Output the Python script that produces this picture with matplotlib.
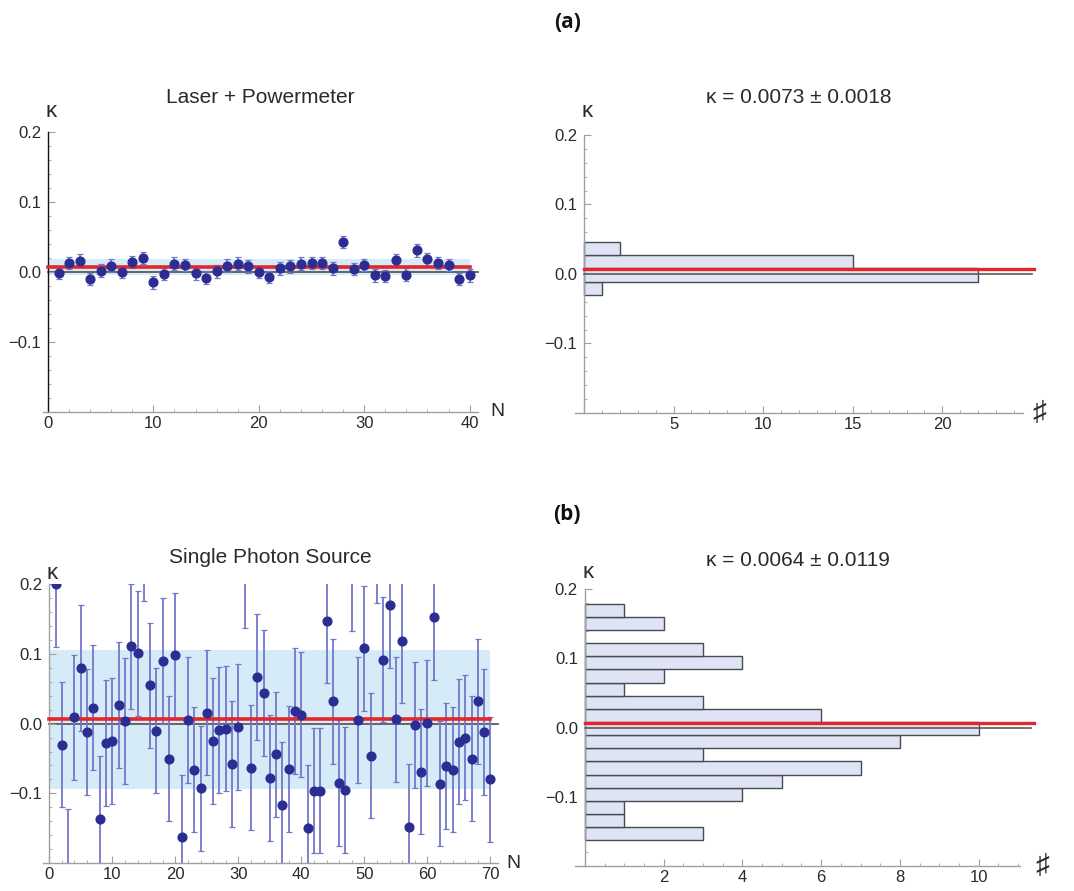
import numpy as np
import matplotlib
matplotlib.use('Agg')
from matplotlib import pyplot as plt
from matplotlib.ticker import MultipleLocator, FixedLocator, FixedFormatter

plt.rcParams['font.family'] = ['Liberation Sans', 'DejaVu Sans']

# (a) laser + powermeter, 40 runs
laser_n = list(range(1, 41))
laser_kappa = [-0.001, 0.013, 0.016, -0.010, 0.002, 0.009, 0.000, 0.014, 0.020, -0.015,
               -0.003, 0.012, 0.010, -0.002, -0.008, 0.001, 0.009, 0.012, 0.008, 0.000,
               -0.007, 0.005, 0.008, 0.012, 0.013, 0.013, 0.005, 0.043, 0.004, 0.010,
               -0.005, -0.006, 0.017, -0.004, 0.031, 0.018, 0.013, 0.010, -0.010, -0.005]
laser_err = 0.009
laser_mean = 0.0073
laser_sem = 0.0018
laser_std = 0.0114
laser_edges = [-0.030, -0.011, 0.008, 0.027, 0.046]
laser_counts = [1, 22, 15, 2]

# (b) single photon source, 70 runs
sps_n = list(range(1, 71))
sps_kappa = [0.200, -0.030, -0.212, 0.009, 0.080, -0.012, 0.023, -0.137, -0.028, -0.025,
             0.027, 0.004, 0.111, 0.101, 0.266, 0.055, -0.010, 0.090, -0.050, 0.098,
             -0.163, 0.005, -0.066, -0.093, 0.016, -0.025, -0.009, -0.007, -0.058, -0.005,
             0.228, -0.063, 0.067, 0.044, -0.078, -0.044, -0.117, -0.065, 0.018, 0.013,
             -0.150, -0.096, -0.096, 0.148, 0.032, -0.085, -0.095, 0.223, 0.005, 0.108,
             -0.046, 0.263, 0.092, 0.170, 0.006, 0.119, -0.148, -0.002, -0.069, 0.001,
             0.153, -0.086, -0.061, -0.066, -0.026, -0.020, -0.050, 0.032, -0.012, -0.080]
sps_err = 0.09
sps_mean = 0.0064
sps_sem = 0.0119
sps_std = 0.0996
sps_edges = [-0.163, -0.144, -0.125, -0.106, -0.087, -0.068, -0.049, -0.030, -0.011, 0.008,
             0.027, 0.046, 0.065, 0.084, 0.103, 0.122, 0.141, 0.160, 0.179]
sps_counts = [3, 1, 1, 4, 5, 7, 3, 8, 10, 6, 3, 1, 2, 4, 3, 0, 2, 1]

ytick_vals = [-0.1, 0.0, 0.1, 0.2]
ytick_labels = ['\u22120.1', '0.0', '0.1', '0.2']

DOT = '#2b2d92'
ERR = '#7377c9'
BAND = '#d6ebf8'
RED = '#e4262b'
ZERO = '#5a5a5a'
AX = '#a0a0a0'
TXT = '#2a2a2a'


def style_axes(ax, xlim, major, minor, ylabel_off, xname, xname_off, xname_size=14,
               left_color=AX, xzero_label=True):
    ax.set_xlim(*xlim)
    ax.set_ylim(-0.2, 0.2)
    for s in ['top', 'right']:
        ax.spines[s].set_visible(False)
    ax.spines['left'].set_position(('data', 0))
    ax.spines['left'].set_color(left_color)
    ax.spines['bottom'].set_color(AX)
    ax.spines['left'].set_linewidth(1.0)
    ax.spines['bottom'].set_linewidth(1.0)
    ax.spines['left'].set_bounds(-0.2, 0.2)
    ax.yaxis.set_major_locator(FixedLocator(ytick_vals))
    ax.yaxis.set_major_formatter(FixedFormatter(ytick_labels))
    ax.yaxis.set_minor_locator(MultipleLocator(0.02))
    ax.xaxis.set_major_locator(MultipleLocator(major))
    ax.xaxis.set_minor_locator(MultipleLocator(minor))
    if not xzero_label:
        ax.xaxis.set_major_formatter(lambda v, p: '' if abs(v) < 1e-9 else '%g' % v)
    else:
        ax.xaxis.set_major_formatter(lambda v, p: '%g' % v)
    ax.tick_params(which='major', direction='in', length=5, width=0.8, color=AX,
                   labelsize=12, labelcolor=TXT, pad=3)
    ax.tick_params(which='minor', direction='in', length=2.5, width=0.6, color=AX)
    ax.tick_params(axis='y', pad=5)
    ax.annotate('\u03ba', xy=(0, 0.2), xytext=(2, ylabel_off), textcoords='offset points',
                ha='center', va='center', fontsize=16, color=TXT)
    ax.annotate(xname, xy=(1, 0), xycoords='axes fraction', xytext=(xname_off, 0),
                textcoords='offset points', ha='center', va='center', fontsize=xname_size,
                color=TXT)


def scatter_panel(ax, n, kappa, err, mean, std, xmax_line, band_end):
    ax.fill_between([0, band_end], mean - std, mean + std, color=BAND, lw=0, zorder=0)
    ax.plot([0, xmax_line], [0, 0], color=ZERO, lw=1.3, zorder=1, clip_on=False)
    ax.errorbar(n, kappa, yerr=err, fmt='none', ecolor=ERR, elinewidth=1.3,
                capsize=2.2, capthick=0.9, zorder=2)
    ax.plot([0, band_end], [mean, mean], color=RED, lw=2.6, zorder=3)
    ax.plot(n, kappa, 'o', color=DOT, ms=6.3, mec=DOT, zorder=4)


def hist_panel(ax, edges, counts, mean, red_end, zero_end):
    edges = np.array(edges)
    ax.barh(edges[:-1], counts, height=np.diff(edges), align='edge',
            color='#dfe3f3', edgecolor='#454c55', linewidth=1.0, zorder=2)
    ax.plot([0, zero_end], [0, 0], color=ZERO, lw=1.2, zorder=3, clip_on=False)
    ax.plot([0, red_end], [mean, mean], color=RED, lw=2.4, zorder=4, clip_on=False)


fig = plt.figure(figsize=(10.74, 8.91), dpi=100)

ax1 = fig.add_axes([0.0398, 0.5376, 0.4053, 0.3143])
ax2 = fig.add_axes([0.5354, 0.5365, 0.4171, 0.3120])
ax3 = fig.add_axes([0.0400, 0.0314, 0.4237, 0.3128])
ax4 = fig.add_axes([0.5354, 0.0282, 0.4143, 0.3106])

scatter_panel(ax1, laser_n, laser_kappa, laser_err, laser_mean, laser_std, 40.8, 40)
style_axes(ax1, (-0.5, 40.8), 10, 2, 15, 'N', 14, left_color='#111111')
ax1.set_title('Laser + Powermeter', fontsize=15, color=TXT, pad=21)

hist_panel(ax2, laser_edges, laser_counts, laser_mean, 25.1, 25.0)
style_axes(ax2, (-0.5, 24.5), 5, 1, 17, '\u266f', 12, xname_size=20, xzero_label=False)
ax2.set_title('\u03ba = %.4f \u00b1 %.4f' % (laser_mean, laser_sem), fontsize=15, color=TXT, pad=23)

scatter_panel(ax3, sps_n, sps_kappa, sps_err, sps_mean, sps_std, 71.2, 70)
style_axes(ax3, (-1, 71.2), 10, 2, 8, 'N', 11)
ax3.set_title('Single Photon Source', fontsize=15, color=TXT, pad=15)

hist_panel(ax4, sps_edges, sps_counts, sps_mean, 11.4, 11.33)
style_axes(ax4, (-0.25, 11.05), 2, 0.5, 12, '\u266f', 16, xname_size=20, xzero_label=False)
ax4.set_title('\u03ba = %.4f \u00b1 %.4f' % (sps_mean, sps_sem), fontsize=15, color=TXT, pad=17)

fig.text(0.528, 1 - 22 / 891, '(a)', ha='center', va='center', fontsize=15,
         fontweight='bold', family=['Open Sans', 'DejaVu Sans'], color='#111111')
fig.text(0.528, 1 - 514 / 891, '(b)', ha='center', va='center', fontsize=15,
         fontweight='bold', family=['Open Sans', 'DejaVu Sans'], color='#111111')

fig.savefig('out.png', dpi=100)
